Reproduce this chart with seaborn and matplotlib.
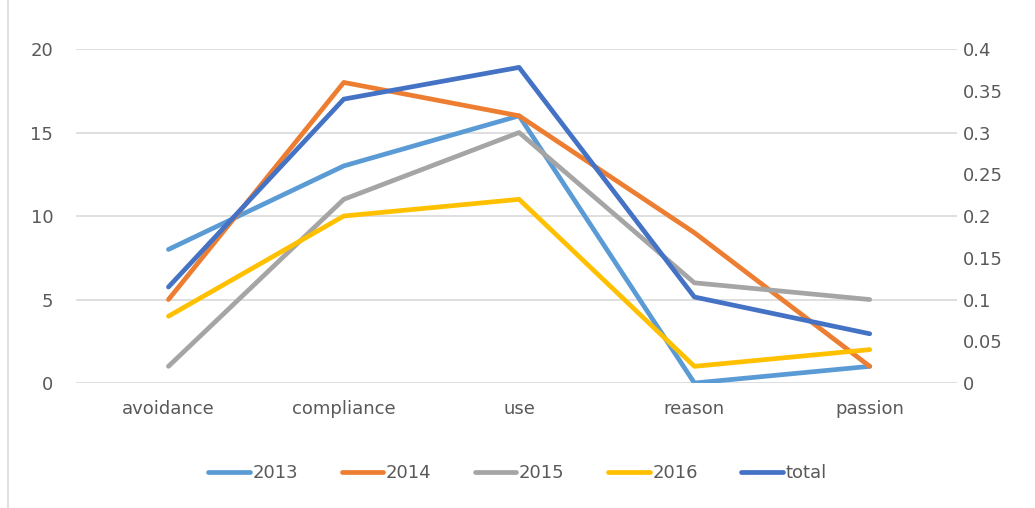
import pandas as pd
import matplotlib.pyplot as plt
import seaborn as sns
from matplotlib.lines import Line2D

# categories and series values
categories = ["avoidance", "compliance", "use", "reason", "passion"]
y2013 = [8, 13, 16, 0, 1]
y2014 = [5, 18, 16, 9, 1]
y2015 = [1, 11, 15, 6, 5]
y2016 = [4, 10, 11, 1, 2]
total = [0.115, 0.34, 0.378, 0.103, 0.059]

series_names = ["2013", "2014", "2015", "2016"]
colors = {"2013": "#5B9BD5", "2014": "#ED7D31", "2015": "#A5A5A5",
          "2016": "#FFC000", "total": "#4472C4"}

# long-form table for seaborn
years = pd.DataFrame({"category": categories, "2013": y2013, "2014": y2014,
                      "2015": y2015, "2016": y2016})
years = years.melt(id_vars="category", var_name="series", value_name="value")
tot = pd.DataFrame({"category": categories, "value": total})

sns.set_style("white")
plt.rcParams['font.family'] = ['DejaVu Sans']
text_color = "#595959"

fig = plt.figure(figsize=(10.35, 5.08), dpi=100)
ax = fig.add_axes([0.073, 0.246, 0.852, 0.6575])

sns.lineplot(data=years, x="category", y="value", hue="series", palette=colors,
             hue_order=series_names, sort=False, linewidth=3.4, ax=ax, legend=False)
ax.set_xlim(-0.53, 4.5)
ax.set_ylim(0, 20)
ax.set_yticks([0, 5, 10, 15, 20])
ax.grid(axis="y", color="#D9D9D9", linewidth=1.2)
ax.set_xlabel("")
ax.set_ylabel("")
for s in ax.spines.values():
    s.set_visible(False)
ax.tick_params(axis="both", length=0, labelsize=13, colors=text_color)
ax.tick_params(axis="y", pad=16)
ax.tick_params(axis="x", pad=12)

ax2 = ax.twinx()
sns.lineplot(data=tot, x="category", y="value", color=colors["total"],
             sort=False, linewidth=3.4, ax=ax2)
ax2.set_ylim(0, 0.4)
ax2.set_yticks([0, 0.05, 0.1, 0.15, 0.2, 0.25, 0.3, 0.35, 0.4])
ax2.set_yticklabels(["0", "0.05", "0.1", "0.15", "0.2", "0.25", "0.3", "0.35", "0.4"])
ax2.set_ylabel("")
for s in ax2.spines.values():
    s.set_visible(False)
ax2.tick_params(axis="y", length=0, labelsize=13, colors=text_color, pad=4)

handles = [Line2D([0], [0], color=colors[n], linewidth=3.4, solid_capstyle="round")
           for n in series_names + ["total"]]
leg = fig.legend(handles, series_names + ["total"], loc="center",
                 bbox_to_anchor=(0.5, 0.069), ncol=5, frameon=False, fontsize=13,
                 handlelength=2.3, handletextpad=0.15, columnspacing=2.4)
for t in leg.get_texts():
    t.set_color(text_color)

# thin border at left edge of the original image
fig.add_artist(Line2D([0.008, 0.008], [0, 1], color="#D9D9D9", linewidth=1.2))

fig.savefig("out.png", dpi=100)
